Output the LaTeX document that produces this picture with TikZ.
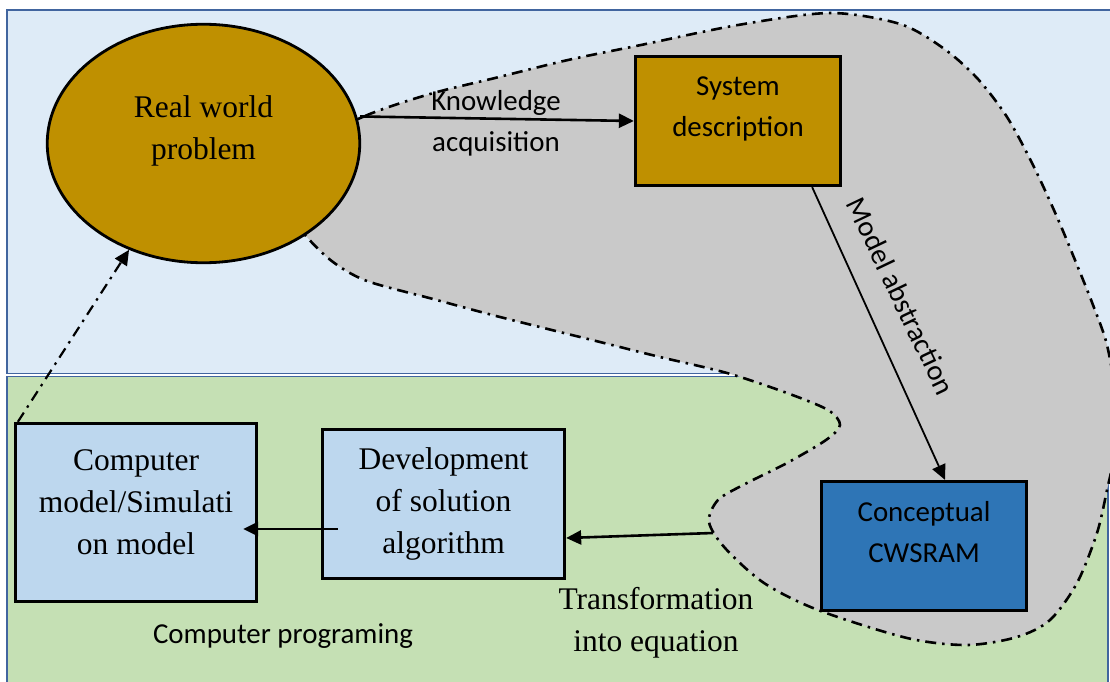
\documentclass[tikz,border=0pt]{standalone}
\usepackage{fontspec}
\setmainfont{Liberation Serif}
\newfontfamily\calfont{Carlito}
\usetikzlibrary{arrows.meta,shapes.geometric}
\definecolor{panelblue}{HTML}{DEEBF7}
\definecolor{panelgreen}{HTML}{C5E0B4}
\definecolor{panelline}{HTML}{41659F}
\definecolor{scopegray}{HTML}{C9C9C9}
\definecolor{gold}{HTML}{BF9000}
\definecolor{deepblue}{HTML}{2E75B6}
\definecolor{paleblue}{HTML}{BDD7EE}

\tikzset{
  serif/.style={font=\fontsize{31.5}{42}\selectfont, align=center, inner sep=0pt},
  sans/.style={font=\calfont\fontsize{28.9}{40.6}\selectfont, align=center, inner sep=0pt},
  box/.style={draw=black, line width=2.8pt, inner sep=0pt},
  tip/.style={-{Triangle[length=15pt,width=14pt]}},
  flow/.style={tip, line width=2.6pt},
  dashdot/.style={dash pattern=on 11pt off 6pt on 2.5pt off 6pt},
  panel/.style={draw=panelline, line width=1.8pt},
}

\begin{document}
\begin{tikzpicture}[x=1pt,y=-1pt]
\useasboundingbox (0,0) rectangle (1110,682);
\clip (0,0) rectangle (1110,682);
\fill[white] (0,0) rectangle (1110,682);

% two background panels
\path[panel, fill=panelblue] (7,10) rectangle (1130,373.5);
\path[panel, fill=panelgreen] (7,376.5) rectangle (1108,700);

% grey region enclosing the modelling steps
\draw[fill=scopegray, line width=2.6pt, dashdot]
  plot[smooth cycle, tension=0.5] coordinates {
    (300,150) (365,116) (430,94) (495,78) (568,60) (641,45) (738,25)
    (830,13) (900,24) (943,48) (977,78) (1007,117) (1033,165) (1057,217)
    (1077,265) (1093,305) (1107,345) (1116,400) (1115,450) (1107,490)
    (1097,533) (1077,583) (1050,620) (1017,637) (967,645) (907,638)
    (818,610) (764,583) (725,548) (709,522) (718,500) (745,484) (787,463)
    (826,440) (840,425) (828,410) (787,393) (727,373) (660,357) (600,342)
    (500,317) (433,299) (367,281) (333,262) (306,236) (280,200)};

% process nodes
\node[ellipse, box, fill=gold, minimum width=312.5pt, minimum height=238.5pt] (rwp) at (203.5,143.5) {};
\node[serif] (rwptext) at ([yshift=12.5pt]rwp.center) {Real world\\problem};

\node[box, fill=gold, minimum width=205.5pt, minimum height=129.5pt] (sd) at (738,121) {};
\node[sans] (sdtext) at ([yshift=12pt]sd.center) {System\\description};

\node[box, fill=deepblue, minimum width=205.5pt, minimum height=129.5pt] (cw) at (924,546) {};
\node[sans] (cwtext) at ([yshift=14pt]cw.center) {Conceptual\\CWSRAM};

\node[box, fill=paleblue, minimum width=241.5pt, minimum height=178.5pt] (comp) at (136,512.5) {};
\node[serif] (comptext) at ([yshift=10.5pt]comp.center) {Computer\\model/Simulati\\on model};

\node[box, fill=paleblue, minimum width=242.5pt, minimum height=149.5pt] (dev) at (443.5,504) {};
\node[serif] (devtext) at (dev.center) {Development\\of solution\\algorithm};

% step labels
\node[sans] (kalabel) at (496,123) {Knowledge\\acquisition};
\node[sans, rotate=-64.5] (malabel) at (901,296) {Model abstraction};
\node[serif] (tilabel) at (656,623) {Transformation\\into equation};
\node[sans] (cplabel) at (283,636) {Computer programing};

% connectors
\coordinate (tstart) at (713,533);
\draw[flow, shorten <=3pt] (rwp.10) -- (sd.west);
\draw[tip, line width=1.8pt] ([xshift=-30pt]sd.south east) -- ([xshift=21pt]cw.north);
\draw[flow] (tstart) -- ([yshift=-34pt]dev.east);
\draw[flow] ([xshift=17pt,yshift=-25pt]dev.west) -- ([xshift=-15pt,yshift=-16.5pt]comp.east);
\draw[tip, line width=2.2pt, dashdot] ([xshift=4pt]comp.north west) -- (rwp.235);
\end{tikzpicture}
\end{document}
